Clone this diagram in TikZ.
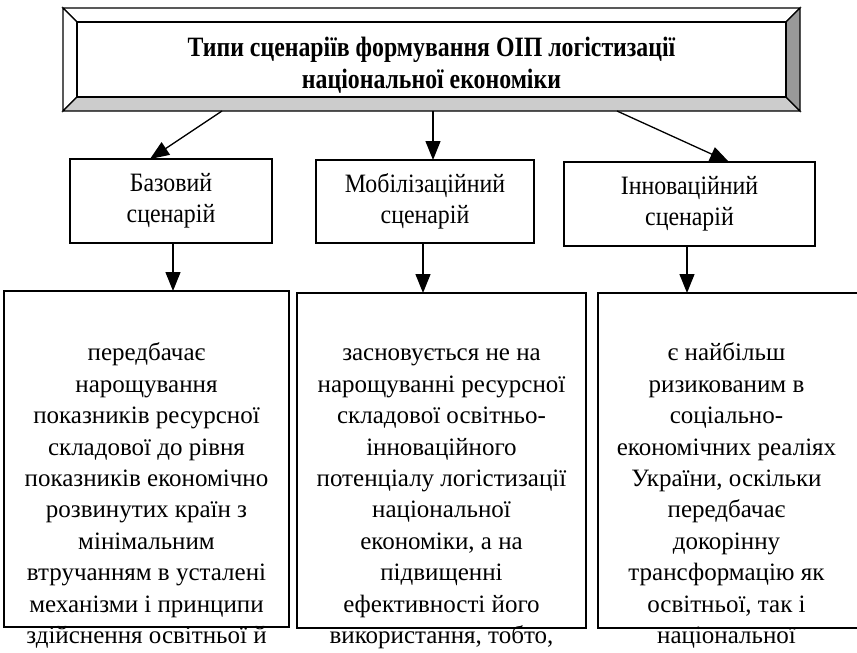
\documentclass[tikz,border=0pt]{standalone}
\usepackage{fontspec}
\setmainfont{Liberation Serif}
\newfontfamily\narrowserif[FakeStretch=0.9]{Liberation Serif}
\newfontfamily\titleserif[FakeStretch=0.85]{Liberation Serif}
\usetikzlibrary{arrows.meta,calc,shadows}

\begin{document}
\begin{tikzpicture}[x=1pt,y=-1pt,
  every node/.style={inner sep=0pt, outer sep=0pt},
  bevel/.style={draw=black, line width=1.3pt, line join=miter},
  framebox/.style={draw=black, line width=1.3pt, fill=white,
    drop shadow={shadow xshift=1.3pt, shadow yshift=-1.3pt, opacity=1, fill=black}},
  conn/.style={line width=1.3pt, -{Triangle[length=19pt,width=15pt]}},
  labeltext/.style={font=\narrowserif\fontsize{26.5}{31}\selectfont, align=center},
  bodytext/.style={font=\fontsize{25}{31.4}\selectfont, align=center, anchor=north},
]
\useasboundingbox (0,0) rectangle (857,653);

% bevelled title banner
\node[minimum width=737pt, minimum height=103pt] (title) at (431.5,59.5) {};
\coordinate (inw) at ($(title.north west)+(14,14)$);
\coordinate (ine) at ($(title.north east)+(-14,14)$);
\coordinate (isw) at ($(title.south west)+(14,-14)$);
\coordinate (ise) at ($(title.south east)+(-14,-14)$);
\draw[bevel, fill=white] (title.north west) -- (title.north east) -- (ine) -- (inw) -- cycle;
\draw[bevel, fill=white] (title.north west) -- (inw) -- (isw) -- (title.south west) -- cycle;
\draw[bevel, fill=black!20] (title.south west) -- (isw) -- (ise) -- (title.south east) -- cycle;
\draw[bevel, fill=black!40] (title.north east) -- (title.south east) -- (ise) -- (ine) -- cycle;
\draw[bevel, fill=white] (inw) rectangle (ise);
\node[font=\titleserif\bfseries\fontsize{28}{32}\selectfont, align=center] (titletext)
  at ($(title.center)+(0,5.5)$)
  {Типи сценаріїв формування ОІП логістизації\\національної економіки};

% scenario boxes
\node[framebox, labeltext, minimum width=202pt, minimum height=84pt] (base) at (171,201)
  {Базовий\\сценарій};
\node[framebox, labeltext, minimum width=218pt, minimum height=83pt] (mob) at (425,201.5)
  {Мобілізаційний\\сценарій};
\node[framebox, labeltext, minimum width=251pt, minimum height=84pt] (innov) at (689.5,204)
  {Інноваційний\\сценарій};

% description boxes
\node[framebox, minimum width=285pt, minimum height=336pt] (d1) at (146.5,459) {};
\node[framebox, minimum width=289pt, minimum height=335pt] (d2) at (441.5,460.5) {};
\node[framebox, minimum width=266pt, minimum height=335pt] (d3) at (731,460.5) {};

\node[bodytext] (t1) at (146.5,339) {\strut передбачає\\нарощування\\показників ресурсної\\складової до рівня\\показників економічно\\розвинутих країн з\\мінімальним\\втручанням в усталені\\механізми і принципи\\здійснення освітньої й};
\node[bodytext] (t2) at (441.5,339) {\strut засновується не на\\нарощуванні ресурсної\\складової освітньо-\\інноваційного\\потенціалу логістизації\\національної\\економіки, а на\\підвищенні\\ефективності його\\використання, тобто,};
\node[bodytext] (t3) at (726.5,339) {\strut є найбільш\\ризикованим в\\соціально-\\економічних реаліях\\України, оскільки\\передбачає\\докорінну\\трансформацію як\\освітньої, так і\\національної};

% connectors
\draw[conn] ($(title.south west)+(159,0)$) -- ($(base.north west)+(80,0)$);
\draw[conn] ($(title.south)+(1.5,0)$) coordinate (m0) -- (m0 |- mob.north);
\draw[conn] ($(title.south west)+(554,0)$) -- ($(innov.north west)+(165,0)$);
\draw[conn] ($(base.south)+(2,0)$) coordinate (b0) -- (b0 |- d1.north);
\draw[conn] ($(mob.south)+(-2,0)$) coordinate (b1) -- (b1 |- d2.north);
\draw[conn] ($(innov.south)+(-2.5,0)$) coordinate (b2) -- (b2 |- d3.north);
\end{tikzpicture}
\end{document}
